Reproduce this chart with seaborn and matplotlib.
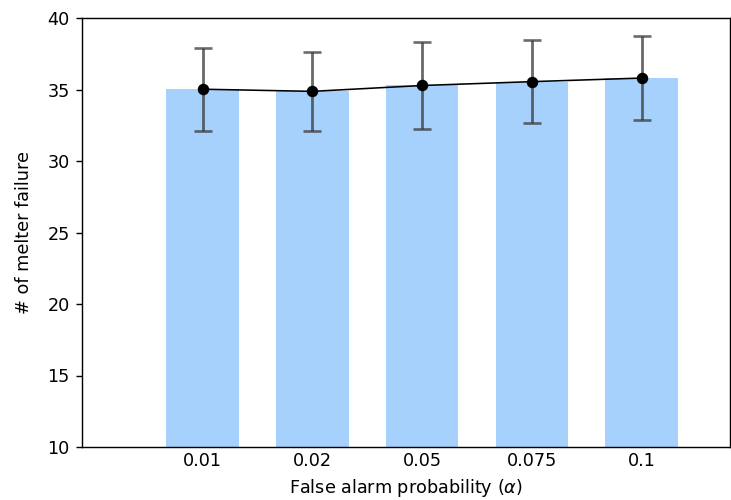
import matplotlib
matplotlib.use("Agg")
import matplotlib.pyplot as plt
import seaborn as sns
import pandas as pd

categories = ["0.01", "0.02", "0.05", "0.075", "0.1"]
means = [35.02, 34.87, 35.28, 35.55, 35.80]
errors = [2.90, 2.75, 3.02, 2.89, 2.96]

df = pd.DataFrame({"alpha": categories, "failures": means})

DPI = 127
fig = plt.figure(figsize=(731 / DPI, 500 / DPI), dpi=DPI)
ax = fig.add_axes([0.112, 0.106, 0.886, 0.858])

sns.barplot(data=df, x="alpha", y="failures", color="#a6d1fd", saturation=1,
            width=0.66, ax=ax, errorbar=None)

xs = list(range(len(categories)))
ax.errorbar(xs, means, yerr=errors, fmt="none", ecolor="#3a3a3a", alpha=0.75,
            elinewidth=1.6, capsize=5, capthick=1.5, zorder=3)
ax.plot(xs, means, color="black", linewidth=0.9, marker="o", markersize=5.5,
        zorder=4)

ax.set_ylim(10, 40)
ax.set_xlim(-1.1, 4.8)
ax.set_xlabel(r"False alarm probability ($\alpha$)", fontsize=10)
ax.set_ylabel("# of melter failure", fontsize=10, labelpad=8)
ax.tick_params(axis="x", length=0, pad=3, labelsize=10)
ax.tick_params(axis="y", labelsize=10)

fig.savefig("out.png", dpi=DPI)
